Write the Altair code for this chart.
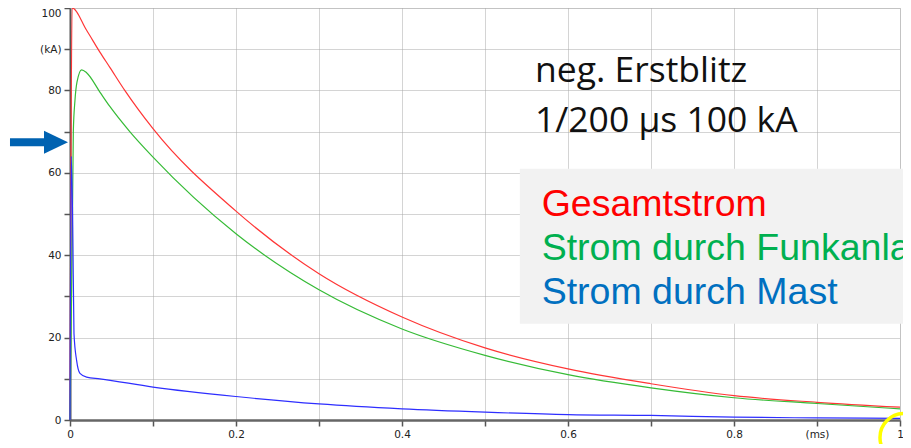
import altair as alt
import pandas as pd

# ---- data (time in ms, current in kA) ----
t_red = [0, 0.001, 0.0025, 0.02, 0.036, 0.048, 0.066, 0.1, 0.2, 0.3, 0.4, 0.5, 0.6, 0.7, 0.8, 0.9, 1.0]
v_red = [0, 55, 100, 94.6, 89.3, 85.6, 80.0, 70.7, 50.7, 35.5, 25.0, 17.5, 12.4, 8.8, 5.9, 4.3, 3.1]

t_green = [0, 0.0012, 0.0028, 0.004, 0.006, 0.0084, 0.014, 0.02, 0.036, 0.048, 0.072, 0.1, 0.2, 0.3, 0.4, 0.5, 0.6, 0.7, 0.8, 0.9, 1.0]
v_green = [0, 20, 45, 70, 77.6, 82, 85, 84.3, 79.6, 76.1, 70.0, 63.8, 45.2, 31.6, 22.1, 15.7, 11.0, 7.8, 5.4, 4.0, 2.7]

t_blue = [0, 0.0015, 0.0033, 0.0048, 0.008, 0.012, 0.02, 0.036, 0.1, 0.2, 0.3, 0.4, 0.5, 0.6, 0.7, 0.8, 0.9, 1.0]
v_blue = [0, 64, 47, 21, 14.4, 11.3, 10.4, 10.0, 8.0, 5.7, 3.9, 2.7, 1.9, 1.3, 1.1, 0.7, 0.5, 0.4]

x_ticks = [0, 0.1, 0.2, 0.3, 0.4, 0.5, 0.6, 0.7, 0.8, 0.9, 1.0]
y_ticks = [0, 10, 20, 30, 40, 50, 60, 70, 80, 90, 100]

title_lines = ["neg. Erstblitz", "1/200 µs 100 kA"]
legend_lines = ["Gesamtstrom", "Strom durch Funkanlage", "Strom durch Mast"]
legend_colors = ["#ff0000", "#00b050", "#0070c0"]

# annotation anchors (data coordinates)
title_x = [0.5602, 0.5602]
title_y = [82.0, 70.0]
legend_x = [0.5683, 0.5683, 0.5683]
legend_y = [49.6, 38.9, 28.2]
box = {"x": [0.542], "x2": [1.1], "y": [61.0], "y2": [23.35]}
arrow_shaft = {"x": [-0.0723], "x2": [-0.0289], "y": [67.4]}
arrow_head = {"x": [-0.0169], "y": [67.4]}
circle_mark = {"x": [1.0048], "y": [-4.25]}

xscale = alt.Scale(domain=[0, 1], nice=False, zero=False)
yscale = alt.Scale(domain=[0, 100], nice=False, zero=False)

xaxis = alt.Axis(
    values=x_ticks, title=None,
    labelExpr="datum.value == 0.9 ? '(ms)' : (round(datum.value*10) % 2 == 0 ? format(datum.value, '~g') : '')",
    grid=True, gridDash=[1, 1], gridColor="#a8a8a8", gridWidth=1,
    domainColor="#666666", domainWidth=2.5,
    tickColor="#555555", tickSize=6, tickWidth=1.5,
    labelFont="DejaVu Sans", labelFontSize=10.5, labelColor="#222222",
    labelPadding=3, labelFlush=False, labelOverlap=False,
)
yaxis = alt.Axis(
    values=y_ticks, title=None,
    labelExpr="datum.value == 90 ? '(kA)' : (datum.value % 20 == 0 ? datum.label : '')",
    labelBaseline=alt.ConditionalAxisLabelBaseline(
        condition={"test": "datum.value == 100", "value": "top"}, value="middle"
    ),
    grid=True, gridDash=[1, 1], gridColor="#a8a8a8", gridWidth=1,
    domainColor="#555555", domainWidth=2,
    tickColor="#555555", tickSize=6, tickWidth=1.5,
    labelFont="DejaVu Sans", labelFontSize=10.5, labelColor="#222222",
    labelPadding=3, labelOverlap=False,
)


def X(field):
    return alt.X(field, type="quantitative", scale=xscale, axis=xaxis)


def Y(field):
    return alt.Y(field, type="quantitative", scale=yscale, axis=yaxis)


def series(ts, vs, color):
    df = pd.DataFrame({"t": ts, "v": vs})
    return alt.Chart(df).mark_line(color=color, strokeWidth=1.2, interpolate="monotone").encode(
        x=X("t"), y=Y("v"), order="t:Q"
    )


red = series(t_red, v_red, "#ff3636")
green = series(t_green, v_green, "#36bb36")
blue = series(t_blue, v_blue, "#2e2eff")

box_layer = alt.Chart(pd.DataFrame(box)).mark_rect(color="#f2f2f2").encode(
    x=X("x"), x2="x2", y=Y("y"), y2="y2"
)

title_layer = alt.Chart(pd.DataFrame({"x": title_x, "y": title_y, "label": title_lines})).mark_text(
    align="left", baseline="alphabetic", font="Open Sans", fontSize=35.5, color="#111111"
).encode(x=X("x"), y=Y("y"), text="label:N")

legend_layer = alt.Chart(pd.DataFrame({"x": legend_x, "y": legend_y, "label": legend_lines, "c": legend_colors})).mark_text(
    align="left", baseline="alphabetic", font="Liberation Sans", fontSize=37.5
).encode(x=X("x"), y=Y("y"), text="label:N", color=alt.Color("c:N", scale=None))

shaft_layer = alt.Chart(pd.DataFrame(arrow_shaft)).mark_rule(color="#0062b1", strokeWidth=8).encode(
    x=X("x"), x2="x2", y=Y("y")
)
head_layer = alt.Chart(pd.DataFrame(arrow_head)).mark_point(
    shape="M -1 -0.96 L 1 0 L -1 0.96 Z", size=576, filled=True, color="#0062b1", opacity=1
).encode(x=X("x"), y=Y("y"))

circle_layer = alt.Chart(pd.DataFrame(circle_mark)).mark_point(
    shape="circle", size=2304, filled=False, stroke="#ffff00", strokeWidth=3.5, opacity=1
).encode(x=X("x"), y=Y("y"))

chart = alt.layer(
    red, green, blue, box_layer, title_layer, legend_layer, shaft_layer, head_layer, circle_layer
).properties(
    width=830, height=412,
    autosize=alt.AutoSizeParams(type="none"),
    padding={"left": 62, "top": 0, "right": 3, "bottom": 24},
).configure_view(
    stroke="#222222", strokeWidth=1.5
).configure(background="white")

chart.save("out.html", embed_options={"renderer": "svg", "actions": False})
